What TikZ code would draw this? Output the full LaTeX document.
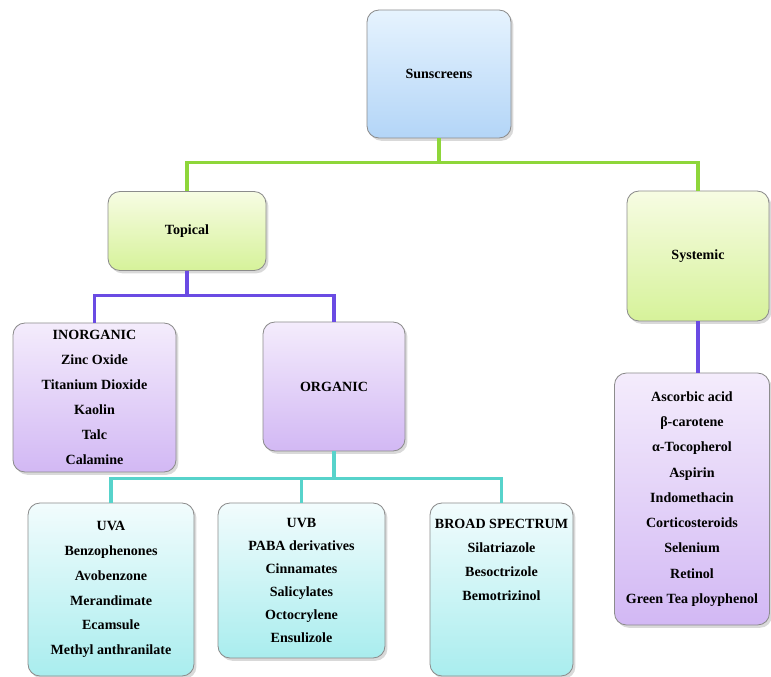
\documentclass[tikz,border=0pt]{standalone}
\usepackage{fontspec}
\setmainfont{Liberation Serif}
\usetikzlibrary{shadows, positioning}
\definecolor{sunTop}{HTML}{E6F3FE}
\definecolor{sunBot}{HTML}{B3D5F7}
\definecolor{limeTop}{HTML}{F7FCE3}
\definecolor{limeBot}{HTML}{D6F29A}
\definecolor{lavTop}{HTML}{F4ECFC}
\definecolor{lavBot}{HTML}{D2B8F4}
\definecolor{aquaTop}{HTML}{F2FCFD}
\definecolor{aquaBot}{HTML}{A9EDEE}
\definecolor{boxedge}{HTML}{8C8C8C}
\definecolor{lineGreen}{HTML}{8ED63A}
\definecolor{linePurple}{HTML}{6A4BE3}
\definecolor{lineTeal}{HTML}{57D3CB}

\begin{document}
\begin{tikzpicture}[
    % Node styles
    box/.style={rectangle, draw=boxedge, line width=0.6pt, rounded corners=8.5pt, align=center, inner sep=2pt,
        font=\bfseries\fontsize{10}{17.7}\selectfont,
        drop shadow={opacity=0.3, shadow xshift=0.06cm, shadow yshift=-0.07cm}},
    bluebox/.style={box, top color=sunTop, bottom color=sunBot},
    limebox/.style={box, top color=limeTop, bottom color=limeBot},
    lavbox/.style={box, top color=lavTop, bottom color=lavBot},
    aquabox/.style={box, top color=aquaTop, bottom color=aquaBot},
    link/.style={line width=2.2pt},
]
\useasboundingbox (0, 0) rectangle (19.275, -16.925);

% ============================================================================
% TOP: ROOT AND ROUTES
% ============================================================================
\node[bluebox, minimum width=3.6cm, minimum height=3.2cm] (sun) at (10.975, -1.85) {Sunscreens};

\node[limebox, minimum width=3.95cm, minimum height=1.975cm] (topical) at (4.675, -5.775) {Topical};
\node[limebox, minimum width=3.55cm, minimum height=3.25cm] (systemic) at (17.45, -6.4) {Systemic};

\draw[link, lineGreen] (sun.south) -- ++(0, -0.6) -| (topical.north);
\draw[link, lineGreen] (sun.south) -- ++(0, -0.6) -| (systemic.north);

% ============================================================================
% MIDDLE: TOPICAL AGENTS
% ============================================================================
\node[lavbox, minimum width=4.075cm, minimum height=3.725cm] (inorg) at (2.3625, -9.9375) {
    INORGANIC\\
    Zinc Oxide\\
    Titanium Dioxide\\
    Kaolin\\
    Talc\\
    Calamine
};
\node[lavbox, minimum width=3.55cm, minimum height=3.225cm] (org) at (8.35, -9.6625) {ORGANIC};

\draw[link, linePurple] (topical.south) -- ++(0, -0.625) -| (inorg.north);
\draw[link, linePurple] (topical.south) -- ++(0, -0.625) -| (org.north);

% Systemic agents
\node[lavbox, minimum width=3.875cm, minimum height=6.3cm, font=\bfseries\fontsize{10}{18}\selectfont] (agents) at (17.3, -12.475) {
    Ascorbic acid\\
    β-carotene\\
    α-Tocopherol\\
    Aspirin\\
    Indomethacin\\
    Corticosteroids\\
    Selenium\\
    Retinol\\
    Green Tea ployphenol
};
\draw[link, linePurple] (systemic.south) -- (systemic.south |- agents.north);

% ============================================================================
% BOTTOM: ORGANIC FILTERS
% ============================================================================
\node[aquabox, minimum width=4.15cm, minimum height=4.325cm] (uva) at (2.775, -14.7375) {
    UVA\\
    Benzophenones\\
    Avobenzone\\
    Merandimate\\
    Ecamsule\\
    Methyl anthranilate
};
\node[aquabox, minimum width=4.175cm, minimum height=3.875cm, font=\bfseries\fontsize{10}{16.4}\selectfont] (uvb) at (7.5375, -14.5125) {
    UVB\\
    PABA derivatives\\
    Cinnamates\\
    Salicylates\\
    Octocrylene\\
    Ensulizole
};
\node[aquabox, minimum width=3.575cm, minimum height=4.325cm, font=\bfseries\fontsize{10}{17}\selectfont] (broad) at (12.5375, -14.7375) {
    BROAD SPECTRUM\\
    Silatriazole\\
    Besoctrizole\\
    Bemotrizinol\\[0.9cm]
    \mbox{}
};

\draw[link, lineTeal] (org.south) -- ++(0, -0.675) -| (uva.north);
\draw[link, lineTeal] (org.south) -- ++(0, -0.675) -| (uvb.north);
\draw[link, lineTeal] (org.south) -- ++(0, -0.675) -| (broad.north);

\end{tikzpicture}
\end{document}
